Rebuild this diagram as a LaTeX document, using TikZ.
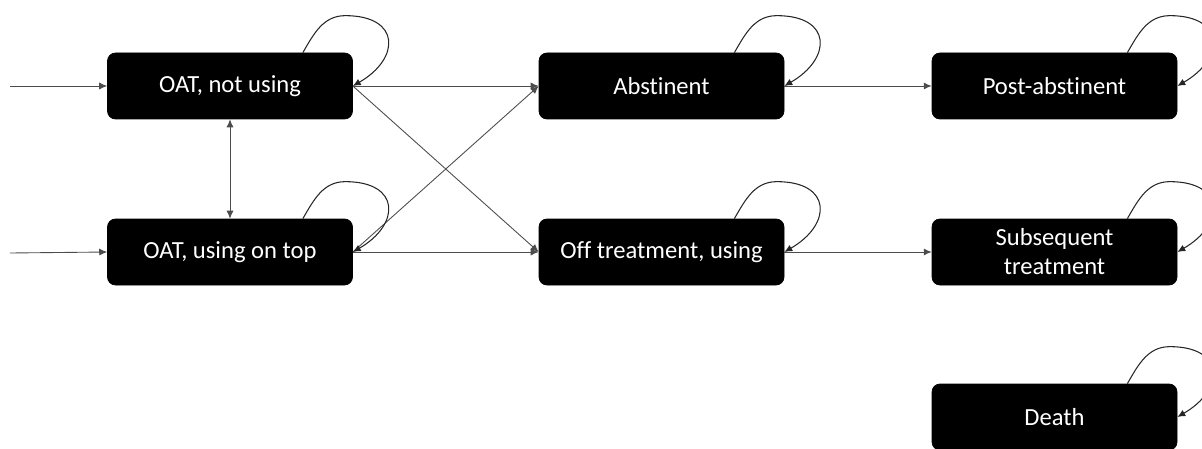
\documentclass[tikz,border=0pt]{standalone}
\usepackage{fontspec}
\setmainfont[Ligatures=NoCommon]{Carlito}
\usetikzlibrary{arrows.meta}

\tikzset{
  state/.style={draw=black,fill=black,text=white,rounded corners=0.16cm,
    minimum width=4.9cm,minimum height=1.32cm,inner sep=0pt,align=center,
    font=\fontsize{14}{16.5}\selectfont},
  trans/.style={->,draw=black!70,line width=0.5pt},
  selfloop/.style={->,draw=black!85,line width=0.6pt}
}

\begin{document}
\begin{tikzpicture}[>={Latex[length=4.5pt,width=4pt]}]
\useasboundingbox (0,0) rectangle (24.04,-8.98);

%OAT states
\node[state] (notusing) at (4.60,-1.72) {OAT, not using};
\node[state] (ontop) at (4.60,-5.04) {OAT, using on top};

%off OAT
\node[state] (abst) at (13.23,-1.72) {Abstinent};
\node[state] (offtr) at (13.23,-5.04) {Off treatment, using};

%later states
\node[state] (post) at (21.09,-1.72) {Post-abstinent};
\node[state] (subseq) at (21.09,-5.04) {Subsequent\\treatment};
\node[state] (death) at (21.09,-8.34) {Death};

%entry
\coordinate (in1) at (0.2,-1.72);
\coordinate (in2) at (0.2,-5.06);
\draw[trans] (in1) -- (notusing.west);
\draw[trans] (in2) -- (ontop.west);

%between OAT states
\draw[trans,<->] (notusing.south) -- (ontop.south |- ontop.north);

%transitions
\draw[trans] (notusing.east) -- (abst.west);
\draw[trans] (notusing.east) -- (offtr.west);
\draw[trans] (ontop.east) -- (abst.west);
\draw[trans] (ontop.east) -- (offtr.west);
\draw[trans] (abst.east) -- (post.west);
\draw[trans] (offtr.east) -- (subseq.west);

%self loops
\foreach \s in {notusing,ontop,abst,offtr,post,subseq,death}{
  \draw[selfloop] ([xshift=-1cm]\s.north east) to[out=60,in=180] ++(0.85,0.74)
    to[out=0,in=30,looseness=2] (\s.east);
}
\end{tikzpicture}
\end{document}
